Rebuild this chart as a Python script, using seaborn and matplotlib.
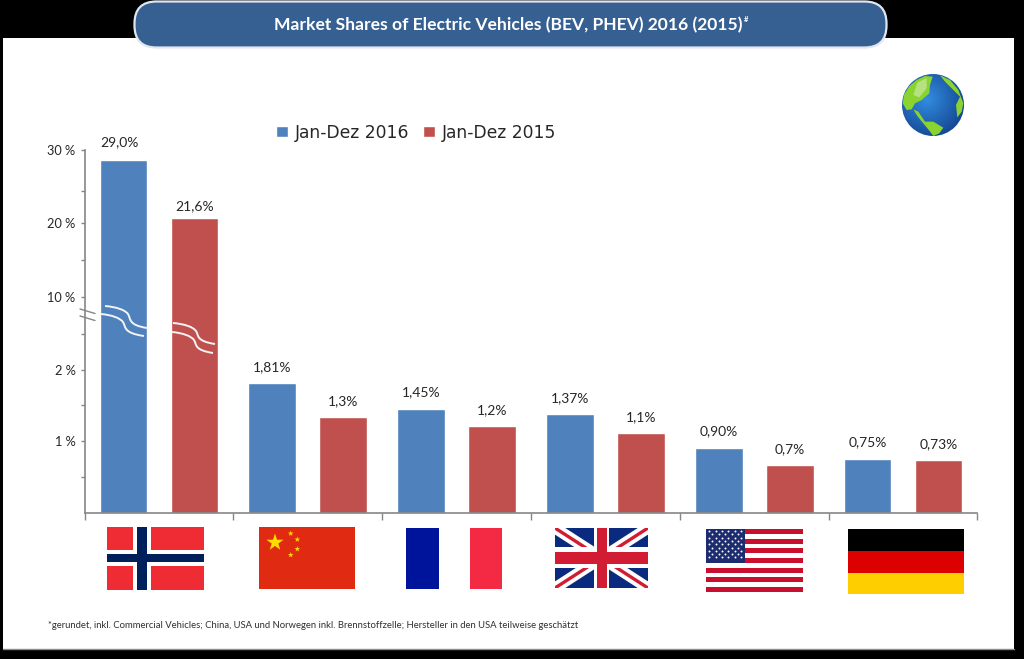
import numpy as np
import pandas as pd
import matplotlib
matplotlib.use("Agg")
import matplotlib.pyplot as plt
import seaborn as sns
from matplotlib.patches import Rectangle, FancyBboxPatch, Polygon, Circle, PathPatch
from matplotlib.path import Path

# ---------- data ----------
countries = ["Norwegen", "China", "Frankreich", "UK", "USA", "Deutschland"]
series_names = ["Jan-Dez 2016", "Jan-Dez 2015"]
values_2016 = [29.0, 1.81, 1.45, 1.37, 0.90, 0.75]
values_2015 = [21.6, 1.33, 1.20, 1.10, 0.66, 0.73]
labels_2016 = ["29,0%", "1,81%", "1,45%", "1,37%", "0,90%", "0,75%"]
labels_2015 = ["21,6%", "1,3%", "1,2%", "1,1%", "0,7%", "0,73%"]
tick_values = [1, 2, 10, 20, 30]
tick_labels = ["1 %", "2 %", "10 %", "20 %", "30 %"]
minor_tick_values = [0.5, 1.5, 6, 15, 25]
title_text = "Market Shares of Electric Vehicles (BEV, PHEV) 2016 (2015)"
footnote = ("*gerundet, inkl. Commercial Vehicles; China, USA und Norwegen inkl. "
            "Brennstoffzelle; Hersteller in den USA teilweise geschätzt")

# hand-broken axis of the original: value -> relative height
scale_values = [0, 1, 2, 10, 20, 21.6, 29, 30]
scale_heights = [0, 72.5, 143, 216, 290, 295, 353.5, 363]

BLUE = "#4F81BD"
RED = "#C0504D"
TXT = "#262626"
W, H = 1024, 659

sns.set_theme(style="white")
plt.rcParams["font.family"] = ["Lato", "DejaVu Sans"]

fig = plt.figure(figsize=(W / 100, H / 100), dpi=100, facecolor="black")


def px_axes(x0, y0, x1, y1, **kw):
    return fig.add_axes([x0 / W, 1 - y1 / H, (x1 - x0) / W, (y1 - y0) / H], **kw)


# ---------- background layer in pixel coordinates ----------
bg = px_axes(0, 0, W, H, zorder=0)
bg.set_xlim(0, W); bg.set_ylim(H, 0); bg.axis("off")
bg.add_patch(Rectangle((3, 38), 1011, 611, fc="white", ec="none"))
bg.plot([3, 1014], [649, 649], color="#8c8c8c", lw=1)

# ---------- chart ----------
ax = px_axes(84.5, 150, 977.5, 513, zorder=2)
ax.patch.set_alpha(0)
df = pd.DataFrame({
    "country": countries * 2,
    "series": [series_names[0]] * 6 + [series_names[1]] * 6,
    "value": values_2016 + values_2015,
})
sns.barplot(data=df, x="country", y="value", hue="series", order=countries,
            hue_order=series_names, palette=[BLUE, RED], width=0.954, gap=0.33,
            saturation=1, errorbar=None, ax=ax)
ax.set_yscale("function", functions=(
    lambda v: np.interp(v, scale_values, scale_heights),
    lambda h: np.interp(h, scale_heights, scale_values)))
ax.set_ylim(0, 30)
ax.set_xlim(-0.5, 5.5)
ax.set_xlabel(""); ax.set_ylabel("")
ax.set_yticks(tick_values, tick_labels, fontsize=9.2, color=TXT)
ax.set_yticks(minor_tick_values, [""] * len(minor_tick_values), minor=True)
ax.set_xticks(np.arange(-0.5, 6, 1), [""] * 7)
ax.tick_params(axis="x", length=5, width=1, color="#868686", bottom=True)
ax.tick_params(axis="y", which="both", length=3, width=1, color="#868686", left=True, pad=3.5)
for s in ("top", "right"):
    ax.spines[s].set_visible(False)
for s in ("left", "bottom"):
    ax.spines[s].set_color("#868686")
    ax.spines[s].set_linewidth(1.2)

for cont, labs in zip(ax.containers, (labels_2016, labels_2015)):
    texts = ax.bar_label(cont, labels=labs, padding=7.5, fontsize=10, color=TXT)
    if labs is labels_2016:
        texts[0].xyann = (-3, 8)
    else:
        texts[0].xyann = (0, 4)

handles, labs = ax.get_legend_handles_labels()
ax.legend(handles, labs, loc="center left",
          bbox_to_anchor=((276 - 84.5) / 893, 1 + (150 - 132.5) / 363),
          ncol=2, frameon=False, labelcolor=TXT, handlelength=0.68,
          handleheight=0.68, handletextpad=0.42, columnspacing=0.82, borderpad=0,
          borderaxespad=0, prop={"family": "DejaVu Sans", "size": 12.3})

# ---------- overlay in pixel coordinates ----------
ov = px_axes(0, 0, W, H, zorder=3)
ov.set_xlim(0, W); ov.set_ylim(H, 0); ov.axis("off"); ov.patch.set_alpha(0)

# title pill
ov.add_patch(FancyBboxPatch((134.5, 1.5), 752, 46, boxstyle="round,pad=0,rounding_size=22",
                            fc="#366092", ec="#dfe6ee", lw=1.6, zorder=3))
ov.text(508, 25, title_text, color="white", fontsize=12.6, fontweight="bold",
        ha="center", va="center", zorder=4)
ov.text(746, 19, "#", color="white", fontsize=5.5, fontweight="bold",
        ha="center", va="center", zorder=4)

# axis break
for y in (309, 316):
    ov.plot([80, 95], [y, y + 4.5], color="#868686", lw=1, zorder=2)


def wave(x0, y0, x1, y1, xa, xb):
    """S-shaped white break line."""
    verts = [(x0, y0), (xa - 8, y0 + 1), (xa, y0 + 4), (xa + 3, y0 + 8),
             (xa + 6, y0 + 13), (xb - 4, y1 - 3), (x1, y1)]
    codes = [Path.MOVETO, Path.CURVE4, Path.CURVE4, Path.CURVE4, Path.CURVE4, Path.CURVE4, Path.CURVE4]
    ov.add_patch(PathPatch(Path(verts, codes), fc="none", ec="#f4f4f4", lw=1.4, zorder=2))


wave(105, 306, 147, 328, 125, 132)
wave(101, 314, 144, 336, 120, 127)
wave(173, 323, 215, 344, 193, 200)
wave(172, 332, 213, 353, 191, 198)


def rect(x0, y0, x1, y1, c, z=2):
    ov.add_patch(Rectangle((x0, y0), x1 - x0, y1 - y0, fc=c, ec="none", zorder=z))


def star(cx, cy, r, c, z=4):
    ang = np.deg2rad(-90 + 36 * np.arange(10))
    rad = np.where(np.arange(10) % 2 == 0, r, r * 0.38)
    ov.add_patch(Polygon(np.c_[cx + rad * np.cos(ang), cy + rad * np.sin(ang)], fc=c, ec="none", zorder=z))


# Norway
rect(106.7, 526.7, 204, 590, "#EF2B33")
rect(133, 526.7, 151, 590, "white", 3)
rect(106.7, 550, 204, 566, "white", 3)
rect(137.3, 526.7, 146.7, 590, "#00205B", 4)
rect(106.7, 554.3, 204, 562.3, "#00205B", 4)

# China
rect(259, 527, 355, 589, "#E02A12")
star(275, 542.5, 9, "#FFDE00")
for cx, cy in [(290.7, 533.5), (297.3, 539.5), (297.3, 549), (290.7, 555)]:
    star(cx, cy, 3, "#FFDE00")

# France
rect(406, 528, 439, 589, "#00149B")
rect(470, 528, 502, 589, "#F42A45")

# UK
ux0, ux1, uy0, uy1 = 555, 648, 528, 588
rect(ux0, uy0, ux1, uy1, "#0A2A80")
clip = Rectangle((ux0, uy0), ux1 - ux0, uy1 - uy0, transform=ov.transData)
for a, b in [((ux0, uy0), (ux1, uy1)), ((ux0, uy1), (ux1, uy0))]:
    l = ov.plot([a[0], b[0]], [a[1], b[1]], color="white", lw=8, solid_capstyle="butt", zorder=3)[0]
    l.set_clip_path(clip)
    l = ov.plot([a[0], b[0]], [a[1], b[1]], color="#D21C33", lw=2.4, solid_capstyle="butt", zorder=3)[0]
    l.set_clip_path(clip)
rect(594, uy0, 609, uy1, "white", 4)
rect(ux0, 547, ux1, 568, "white", 4)
rect(597.3, uy0, 606.7, uy1, "#D21C33", 5)
rect(ux0, 552.3, ux1, 564, "#D21C33", 5)

# USA
sx0, sx1, sy0, sy1 = 706, 803, 529, 592
step = (sy1 - sy0) / 13
for i in range(0, 13, 2):
    rect(sx0, sy0 + i * step, sx1, sy0 + (i + 1) * step, "#C8102E")
rect(sx0, sy0, 745, sy0 + 7 * step, "#1C2C6E", 3)
for r in range(9):
    n = 6 if r % 2 == 0 else 5
    off = 3.2 if r % 2 == 0 else 6.4
    for k in range(n):
        ov.plot(sx0 + off + k * 6.4, sy0 + 2 + r * 3.3, "o", ms=1.4, mfc="white", mec="none", zorder=4)

# Germany
rect(848, 529, 964, 551, "black")
rect(848, 551, 964, 572.5, "#DD0000")
rect(848, 572.5, 964, 594, "#FFCE00")

# Globe
cx, cy, R = 933, 105, 31
yy, xx = np.mgrid[-1:1:128j, -1:1:128j]
d = np.hypot(xx + 0.2, yy + 0.2)
t = np.clip(d / 1.4, 0, 1)
c0 = np.array([0.20, 0.55, 0.88]); c1 = np.array([0.07, 0.26, 0.55])
img = c0 + (c1 - c0) * t[..., None]
im = ov.imshow(img, extent=(cx - R, cx + R, cy + R, cy - R), zorder=2, aspect="auto")
ov.set_xlim(0, W); ov.set_ylim(H, 0)
globe_clip = Circle((cx, cy), R, transform=ov.transData)
im.set_clip_path(globe_clip)


def zoomed(pts):
    return [(880 + x / 3, 60 + y / 3) for x, y in pts]


land = [
    [(68, 130), (72, 105), (88, 78), (110, 60), (135, 48), (158, 50), (150, 75), (148, 100), (125, 120), (105, 130), (95, 148), (80, 150)],
    [(180, 46), (210, 60), (235, 90), (250, 130), (245, 155), (232, 172), (228, 135), (240, 110), (215, 85), (195, 65)],
    [(100, 148), (115, 155), (125, 170), (135, 185), (160, 185), (190, 203), (178, 220), (160, 228), (148, 212), (130, 190), (112, 168)],
]
for pts in land:
    p = Polygon(zoomed(pts), fc="#8BD32F", ec="none", zorder=3)
    ov.add_patch(p)
p = Polygon(zoomed([(100, 105), (112, 68), (140, 54), (140, 85), (118, 112)]), fc="#B5E27F", ec="none", zorder=4)
ov.add_patch(p)

# footnote
ov.text(48, 625, footnote, fontsize=6.85, color="#303030", ha="left", va="center")

fig.savefig("out.png", dpi=100, facecolor="black")
